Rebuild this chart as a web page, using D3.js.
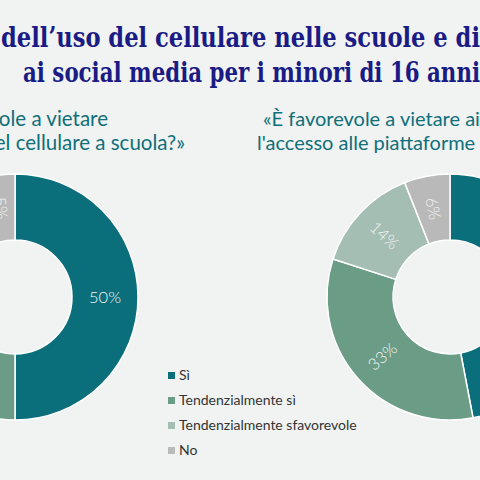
<!DOCTYPE html>
<html>
<head>
<meta charset="utf-8">
<script src="https://cdn.jsdelivr.net/npm/d3@7"></script>
<style>
  html, body { margin: 0; padding: 0; background: #f0f3f1; }
  svg { display: block; }
</style>
</head>
<body>
<div id="chart"></div>
<script>
// data
const categories = ["Sì", "Tendenzialmente sì", "Tendenzialmente sfavorevole", "No"];
const colors = ["#0a6e7b", "#6a9c86", "#a5beb4", "#b9b9b9"];
const schoolPhone = [50, 30, 15, 5];
const socialBan = [47, 33, 14, 6];
const titleLines = ["dell’uso del cellulare nelle scuole e di", "ai social media per i minori di 16 anni"];
const leftQuestion = ["«È favorevole a vietare", "l'uso del cellulare a scuola?»"];
const rightQuestion = ["«È favorevole a vietare ai", "l'accesso alle piattaforme"];

const width = 480, height = 480;
const outerR = 123, innerR = 57;

const svg = d3.select("#chart")
  .append("svg")
  .attr("width", width)
  .attr("height", height)
  .style("background", "#f0f3f1");

// Title (serif, navy) - big glyphs squeezed into the span each line covers
const title = svg.append("g")
  .attr("font-family", "'DejaVu Serif', serif")
  .attr("font-weight", "bold")
  .attr("font-size", 28)
  .attr("fill", "#1b1b85");

const titleSpans = [[1, 47, 479], [23, 82, 457]];
titleLines.forEach((line, i) => {
  const [x, y, w] = titleSpans[i];
  title.append("text")
    .attr("x", x)
    .attr("y", y)
    .attr("textLength", w)
    .attr("lengthAdjust", "spacingAndGlyphs")
    .text(line);
});

// Questions
const qFont = "Lato, 'Open Sans', sans-serif";
const qColor = "#0f6f7a";
svg.append("g")
  .attr("font-family", qFont)
  .attr("font-size", 20.5)
  .attr("fill", qColor)
  .attr("text-anchor", "end")
  .selectAll("text")
  .data(leftQuestion)
  .join("text")
  .attr("x", (d, i) => i === 0 ? 108 : 185)
  .attr("y", (d, i) => 126 + i * 24)
  .text(d => d);

svg.append("g")
  .attr("font-family", qFont)
  .attr("font-size", 20)
  .attr("fill", qColor)
  .selectAll("text")
  .data(rightQuestion)
  .join("text")
  .attr("x", (d, i) => i === 0 ? 263 : 257)
  .attr("y", (d, i) => 126 + i * 24)
  .text(d => d);

// Donuts
const pie = d3.pie().sort(null).value(d => d);
const arc = d3.arc().innerRadius(innerR).outerRadius(outerR);

function drawDonut(cx, cy, values) {
  const g = svg.append("g").attr("transform", `translate(${cx},${cy})`);
  const arcs = pie(values);

  g.selectAll("path")
    .data(arcs)
    .join("path")
    .attr("d", arc)
    .attr("fill", (d, i) => colors[i])
    .attr("stroke", "#ffffff")
    .attr("stroke-width", 1.5);

  // labels run along the radius, flipped on the left half so they stay readable
  g.selectAll("text")
    .data(arcs)
    .join("text")
    .attr("transform", d => {
      const [x, y] = arc.centroid(d);
      const a = (d.startAngle + d.endAngle) / 2 * 180 / Math.PI;
      let rot = a - 90;
      if (a > 180) rot += 180;
      return `translate(${x},${y}) rotate(${rot})`;
    })
    .attr("text-anchor", "middle")
    .attr("dy", "0.35em")
    .attr("font-family", "Lato, 'Open Sans', sans-serif")
    .attr("font-weight", 300)
    .attr("font-size", 16.5)
    .attr("fill", "#f4f4f4")
    .text(d => d.data + "%");
}

drawDonut(15, 297, schoolPhone);
drawDonut(450, 297, socialBan);

// Legend
const legend = svg.append("g")
  .attr("font-family", "Lato, 'Open Sans', sans-serif")
  .attr("font-size", 14)
  .attr("fill", "#333333");

const item = legend.selectAll("g")
  .data(categories)
  .join("g")
  .attr("transform", (d, i) => `translate(168,${380 + i * 25})`);

item.append("rect")
  .attr("x", 0)
  .attr("y", -8)
  .attr("width", 7)
  .attr("height", 7)
  .attr("fill", (d, i) => colors[i]);

item.append("text")
  .attr("x", 11)
  .attr("y", 0)
  .text(d => d);
</script>
</body>
</html>
